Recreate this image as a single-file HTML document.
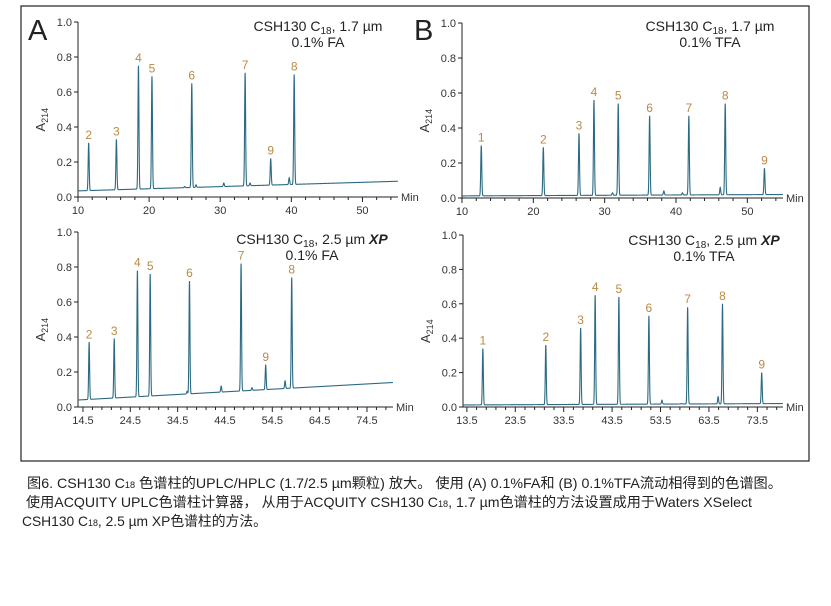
<!DOCTYPE html>
<html><head><meta charset="utf-8">
<style>
body{margin:0;background:#fff;width:831px;height:606px;overflow:hidden}
svg{display:block}
text{font-family:"Liberation Sans","DejaVu Sans",sans-serif}
.cap{font-family:"Liberation Sans Narrow","Liberation Sans","Noto Sans CJK SC",sans-serif;font-size:14px;fill:#222}
</style></head>
<body>
<svg id="fig" width="831" height="606" viewBox="0 0 831 606">
<rect x="21" y="6" width="788" height="455" fill="none" stroke="#222" stroke-width="1.2"/>
<text x="28" y="40" font-size="29" fill="#222">A</text>
<text x="414" y="40" font-size="29" fill="#222">B</text>
<g class="cap">
<text class="cap" x="27" y="488" textLength="755" lengthAdjust="spacingAndGlyphs">图6. CSH130 C<tspan font-size="9">18</tspan> 色谱柱的UPLC/HPLC (1.7/2.5 µm颗粒) 放大。 使用 (A) 0.1%FA和 (B) 0.1%TFA流动相得到的色谱图。</text>
<text class="cap" x="26" y="507" textLength="726" lengthAdjust="spacingAndGlyphs">使用ACQUITY UPLC色谱柱计算器， 从用于ACQUITY CSH130 C<tspan font-size="9">18</tspan>, 1.7 µm色谱柱的方法设置成用于Waters XSelect</text>
<text class="cap" x="22" y="526" textLength="245" lengthAdjust="spacingAndGlyphs">CSH130 C<tspan font-size="9">18</tspan>, 2.5 µm XP色谱柱的方法。</text>
</g>
</svg>
<script>
// Panel A top: 0.1% FA, 1.7 µm
const timesA1=[11.5,15.4,18.5,20.4,26.0,33.5,40.4,37.1];
const heightsA1=[0.31,0.33,0.75,0.69,0.65,0.71,0.70,0.22];
const labelsA1=["2","3","4","5","6","7","8","9"];
const minorTimesA1=[21.3,25.0,26.6,30.5,34.2,39.7];
const minorHeightsA1=[0.05,0.06,0.07,0.08,0.08,0.11];
const baseA1=[0.035,0.09];
const xTicksA1=[10,20,30,40,50];
// Panel B top: 0.1% TFA, 1.7 µm
const timesB1=[12.7,21.4,26.4,28.5,31.9,36.3,41.8,46.9,52.4];
const heightsB1=[0.30,0.29,0.37,0.56,0.54,0.47,0.47,0.54,0.17];
const labelsB1=["1","2","3","4","5","6","7","8","9"];
const minorTimesB1=[31.1,38.3,40.9,46.2];
const minorHeightsB1=[0.03,0.04,0.03,0.06];
const baseB1=[0.012,0.02];
const xTicksB1=[10,20,30,40,50];
// Panel A bottom: 0.1% FA, 2.5 µm XP
const timesA2=[15.8,21.1,26.0,28.7,37.0,47.9,58.6,53.1];
const heightsA2=[0.37,0.39,0.78,0.76,0.72,0.82,0.74,0.24];
const labelsA2=["2","3","4","5","6","7","8","9"];
const minorTimesA2=[36.5,43.7,57.2,50.2];
const minorHeightsA2=[0.09,0.12,0.15,0.11];
const baseA2=[0.04,0.14];
const xTicksA2=[14.5,24.5,34.5,44.5,54.5,64.5,74.5];
// Panel B bottom: 0.1% TFA, 2.5 µm XP
const timesB2=[16.8,29.8,37.0,40.0,44.9,51.1,59.1,66.3,74.4];
const heightsB2=[0.34,0.36,0.46,0.65,0.64,0.53,0.58,0.60,0.20];
const labelsB2=["1","2","3","4","5","6","7","8","9"];
const minorTimesB2=[53.8,57.8,65.4];
const minorHeightsB2=[0.04,0.02,0.06];
const baseB2=[0.012,0.02];
const xTicksB2=[13.5,23.5,33.5,43.5,53.5,63.5,73.5];
const yTicks=[0,0.2,0.4,0.6,0.8,1.0];

const NS="http://www.w3.org/2000/svg";
const svg=document.getElementById('fig');
function mk(tag,attrs,parent,txt){const e=document.createElementNS(NS,tag);for(const k in attrs)e.setAttribute(k,attrs[k]);if(txt!=null)e.textContent=txt;parent.appendChild(e);return e;}

function panel(cfg,times,heights,labels,mt,mh,base,xticks){
  const g=mk('g',{},svg);
  
  
  const X=t=>cfg.x0+(t-cfg.t0)/(cfg.t1-cfg.t0)*(cfg.x1-cfg.x0);
  const Y=v=>cfg.y0-v*(cfg.y0-cfg.yTop);
  const bl=t=>base[0]+(base[1]-base[0])*(t-cfg.t0)/(cfg.t1-cfg.t0);
  // axes
  const ya=mk('line',{x1:cfg.x0,y1:cfg.yTop,x2:cfg.x0,y2:cfg.y0,stroke:'#222','stroke-width':1},g);
  
  
  const xa=mk('line',{x1:cfg.x0,y1:cfg.y0,x2:cfg.x1,y2:cfg.y0,stroke:'#222','stroke-width':1},g);
  
  
  yTicks.forEach(v=>{
    mk('line',{x1:cfg.x0-4,y1:Y(v),x2:cfg.x0,y2:Y(v),stroke:'#222'},g);
    const t=mk('text',{x:cfg.x0-6,y:Y(v)+4,'font-size':11,'text-anchor':'end',fill:'#333'},g,v.toFixed(1));
    
    
  });
  // minor ticks every 2 min from first major
  const step=xticks[1]-xticks[0];
  for(let t=xticks[0]-step;t<=cfg.t1+0.001;t+=2){
    if(t<cfg.t0-0.001)continue;
    const major=xticks.some(m=>Math.abs(m-t)<0.01);
    mk('line',{x1:X(t),y1:cfg.y0,x2:X(t),y2:cfg.y0+(major?5:3),stroke:'#222'},g);
  }
  xticks.forEach(v=>{
    const t=mk('text',{x:X(v),y:cfg.y0+17,'font-size':11,'text-anchor':'middle',fill:'#333'},g,String(v));
    
    
  });
  const mn=mk('text',{x:cfg.x1+3,y:cfg.y0+4,'font-size':11,fill:'#333'},g,'Min');
  
  
  const yl=mk('text',{transform:`translate(${cfg.x0-33},${(cfg.y0+cfg.yTop)/2+22}) rotate(-90)`,'font-size':13,fill:'#333'},g);
  
  
  mk('tspan',{},yl,'A');mk('tspan',{'font-size':9,dy:3},yl,'214');
  // title
  const tt=mk('text',{x:cfg.tx,y:cfg.ty,'font-size':14,'text-anchor':'middle',fill:'#222'},g);
  
  
  mk('tspan',{},tt,'CSH130 C');mk('tspan',{'font-size':10,dy:3},tt,'18');mk('tspan',{dy:-3},tt,', '+cfg.size);
  if(cfg.xp){mk('tspan',{'font-weight':'bold','font-style':'italic'},tt,' XP');}
  const mp=mk('text',{x:cfg.tx,y:cfg.ty+16,'font-size':14,'text-anchor':'middle',fill:'#222'},g,cfg.phase);
  
  
  // trace
  const sig=cfg.sig;
  const allT=times.concat(mt), allH=heights.concat(mh);
  let d='';
  for(let t=cfg.t0;t<=cfg.t1;t+=0.02){
    let v=bl(t);
    for(let i=0;i<allT.length;i++){const a=allH[i]-bl(allT[i]);const z=(t-allT[i])/sig;if(Math.abs(z)<6)v+=a*Math.exp(-0.5*z*z);}
    d+=(d?'L':'M')+X(t).toFixed(2)+' '+Y(v).toFixed(2);
  }
  const p=mk('path',{d:d,fill:'none',stroke:'#2b6a82','stroke-width':1.1},g);
  
  
  times.forEach((t,i)=>{
    const l=mk('text',{x:X(t),y:Y(heights[i])-4,'font-size':12,'text-anchor':'middle',fill:'#b98a45'},g,labels[i]);
    
    
  });
}
panel({name:'panel-a-top',x0:78,x1:398,t0:10,t1:55,y0:197,yTop:22,tx:318,ty:31,size:'1.7 µm',phase:'0.1% FA',xp:false,sig:0.07},timesA1,heightsA1,labelsA1,minorTimesA1,minorHeightsA1,baseA1,xTicksA1);
panel({name:'panel-b-top',x0:462,x1:783,t0:10,t1:55,y0:198,yTop:23,tx:710,ty:31,size:'1.7 µm',phase:'0.1% TFA',xp:false,sig:0.07},timesB1,heightsB1,labelsB1,minorTimesB1,minorHeightsB1,baseB1,xTicksB1);
panel({name:'panel-a-bottom',x0:78,x1:393,t0:13.45,t1:80,y0:407,yTop:232,tx:312,ty:244,size:'2.5 µm',phase:'0.1% FA',xp:true,sig:0.1},timesA2,heightsA2,labelsA2,minorTimesA2,minorHeightsA2,baseA2,xTicksA2);
panel({name:'panel-b-bottom',x0:463,x1:783,t0:12.7,t1:78.8,y0:407,yTop:235,tx:704,ty:245,size:'2.5 µm',phase:'0.1% TFA',xp:true,sig:0.1},timesB2,heightsB2,labelsB2,minorTimesB2,minorHeightsB2,baseB2,xTicksB2);
</script>
</body></html>
